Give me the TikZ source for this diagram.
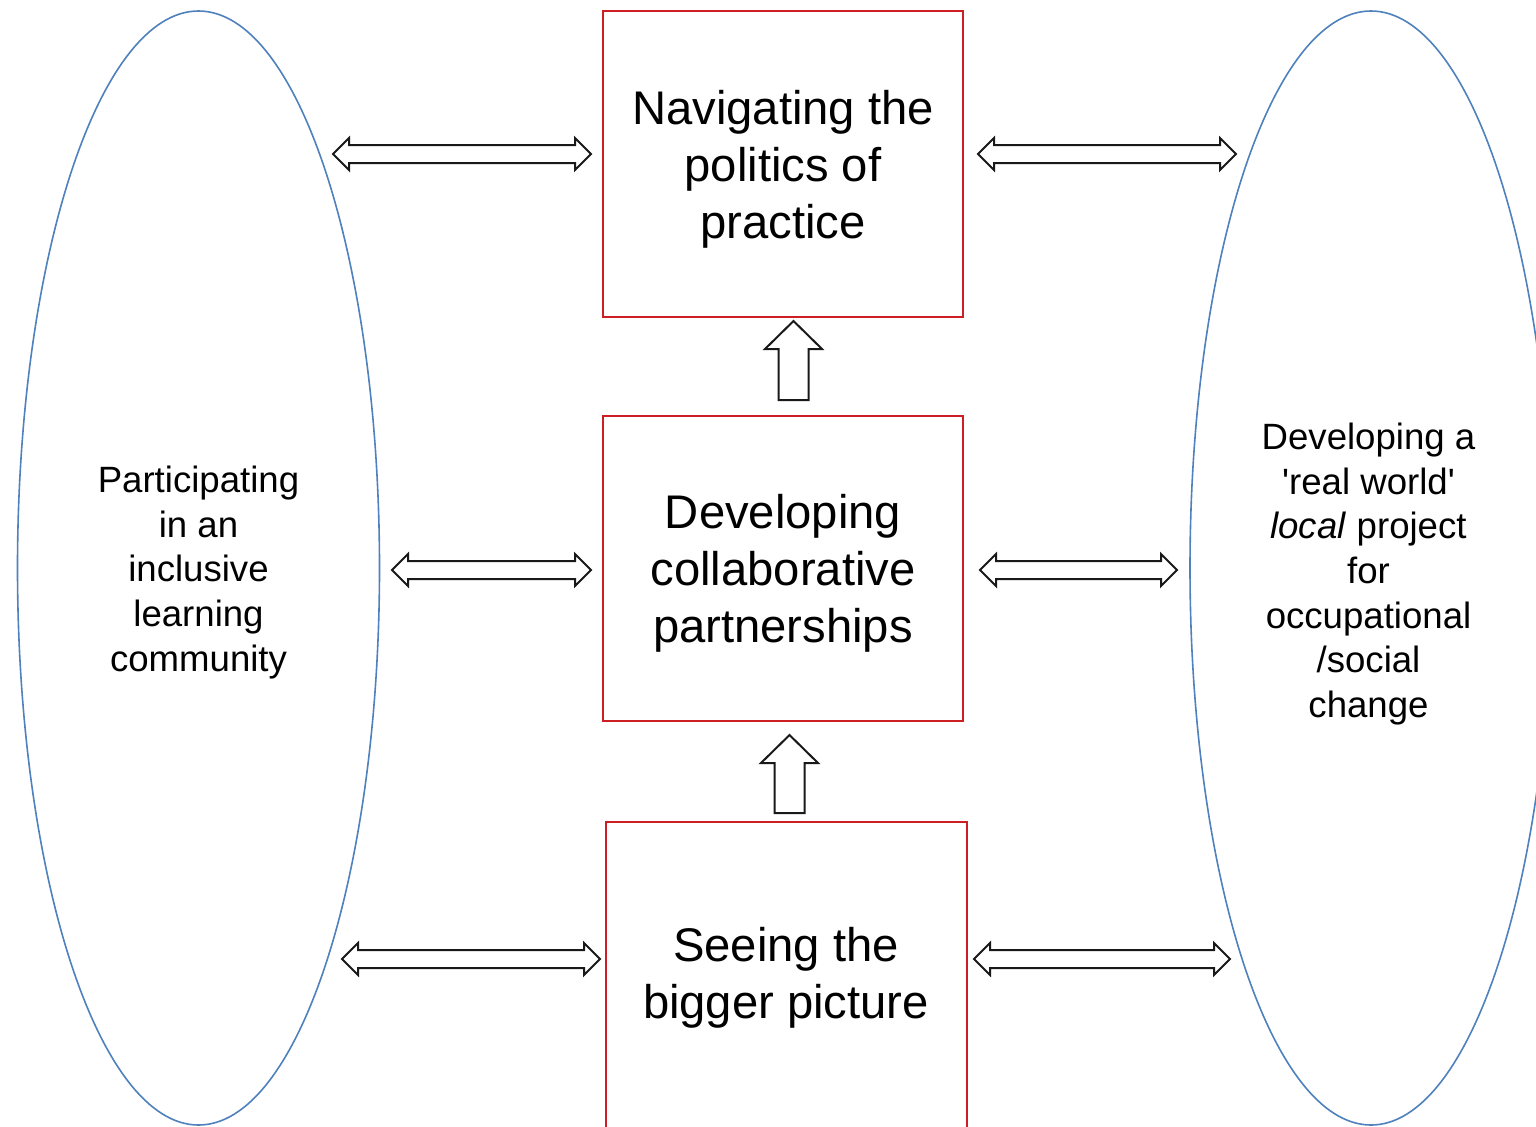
\documentclass[tikz,border=0pt]{standalone}
\usepackage{fontspec}
\setmainfont[Ligatures=TeXOff]{Liberation Sans}
\usetikzlibrary{shapes.geometric,calc}
\definecolor{boxred}{RGB}{205,30,35}
\definecolor{ellblue}{RGB}{79,129,189}
\tikzset{
  blockarrow/.style={draw=black!90, line width=1pt, fill=white, line join=miter},
  redbox/.style={draw=boxred, line width=1pt, rectangle, inner sep=0pt},
  ovalnode/.style={draw=ellblue, line width=0.8pt, ellipse, inner sep=0pt,
    minimum width=181pt, minimum height=557pt},
  ovaltext/.style={align=center, inner sep=0pt, font=\fontsize{18.3}{22.3}\selectfont},
  boxtext/.style={align=center, font=\fontsize{23.6}{28.6}\selectfont, inner sep=0pt},
}
% horizontal double block arrow between two named coordinates (same y)
\newcommand\hdarrow[2]{%
  \draw[blockarrow] (#1) -- ($(#1)+(16,-16)$) -- ($(#1)+(16,-9)$) -- ($(#2)+(-16,-9)$)
    -- ($(#2)+(-16,-16)$) -- (#2) -- ($(#2)+(-16,16)$) -- ($(#2)+(-16,9)$)
    -- ($(#1)+(16,9)$) -- ($(#1)+(16,16)$) -- cycle;}
% upward block arrow from bottom coordinate #1 to tip coordinate #2
\newcommand\upblkarrow[2]{%
  \draw[blockarrow] (#2) -- ($(#2)+(28.5,28)$) -- ($(#2)+(15,28)$) -- ($(#1)+(15,0)$)
    -- ($(#1)+(-15,0)$) -- ($(#2)+(-15,28)$) -- ($(#2)+(-28.5,28)$) -- cycle;}
\begin{document}
\begin{tikzpicture}[x=0.5pt,y=-0.5pt]
\useasboundingbox (0,0) rectangle (1536,1126);
\clip (0,0) rectangle (1536,1126);
\fill[white] (0,0) rectangle (1536,1126);

% ellipses
\node[ovalnode] (ellL) at (198.5,568) {};
\node[ovaltext] (tl) at (198.5,572.5) {Participating\\in an\\inclusive\\learning\\community};
\node[ovalnode] (ellR) at (1371,568) {};
\node[ovaltext] (tr) at (1368.5,574) {Developing a\\'real world'\\\textit{local} project\\for\\occupational\\/social\\change};

% boxes
\node[redbox, minimum width=180pt, minimum height=153pt] (box1) at (783,164) {};
\node[boxtext] (t1) at (783,169) {Navigating the\\politics of\\practice};
\node[redbox, minimum width=180pt, minimum height=152.5pt] (box2) at (783,568.5) {};
\node[boxtext] (t2) at (783,573.5) {Developing\\collaborative\\partnerships};
\node[redbox, minimum width=180.5pt, minimum height=165pt] (box3) at (786.5,987) {};
\node[boxtext] (t3) at (786,978) {Seeing the\\bigger picture};

% arrow end points
\coordinate (a1l) at (333,154);  \coordinate (a1r) at (591,154);
\coordinate (b1l) at (978,154);  \coordinate (b1r) at (1236,154);
\coordinate (a2l) at (392,570);  \coordinate (a2r) at (591,570);
\coordinate (b2l) at (980,570);  \coordinate (b2r) at (1177,570);
\coordinate (a3l) at (342,959);  \coordinate (a3r) at (600,959);
\coordinate (b3l) at (974,959);  \coordinate (b3r) at (1230,959);
\coordinate (u1b) at (793.5,400); \coordinate (u1t) at (793.5,321);
\coordinate (u2b) at (789.5,813); \coordinate (u2t) at (789.5,735);

\hdarrow{a1l}{a1r}
\hdarrow{b1l}{b1r}
\hdarrow{a2l}{a2r}
\hdarrow{b2l}{b2r}
\hdarrow{a3l}{a3r}
\hdarrow{b3l}{b3r}
\upblkarrow{u1b}{u1t}
\upblkarrow{u2b}{u2t}
\end{tikzpicture}
\end{document}
